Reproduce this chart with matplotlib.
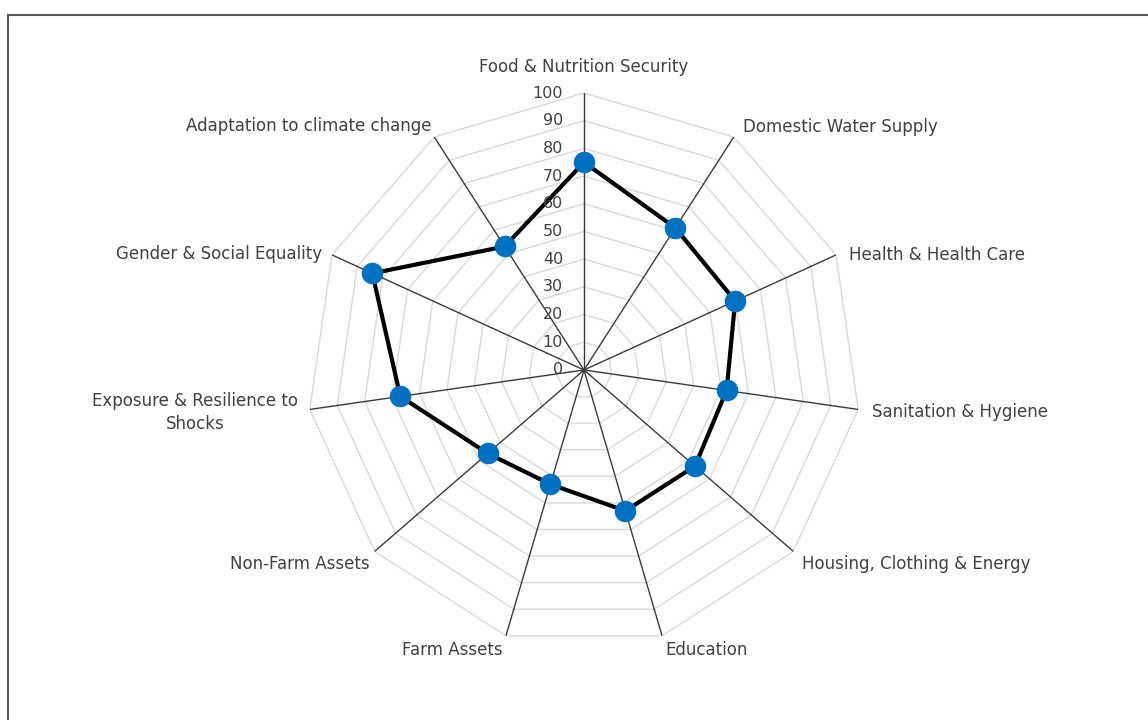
import numpy as np
import matplotlib
matplotlib.use("Agg")
import matplotlib.pyplot as plt
from matplotlib.patches import Rectangle

categories = [
    "Food & Nutrition Security",
    "Domestic Water Supply",
    "Health & Health Care",
    "Sanitation & Hygiene",
    "Housing, Clothing & Energy",
    "Education",
    "Farm Assets",
    "Non-Farm Assets",
    "Exposure & Resilience to\nShocks",
    "Gender & Social Equality",
    "Adaptation to climate change",
]
values = [75, 61, 60, 52, 53, 53, 43, 46, 67, 84, 53]
r_ticks = [0, 10, 20, 30, 40, 50, 60, 70, 80, 90, 100]

# label placement (ha, offset in pixels)
label_style = [
    ("center", (0, 26)),
    ("left", (9, 10)),
    ("left", (13, 0)),
    ("left", (14, -3)),
    ("left", (9, -13)),
    ("left", (3, -14)),
    ("right", (-3, -14)),
    ("right", (-5, -13)),
    ("right", (-12, -3)),
    ("right", (-10, 1)),
    ("right", (-3, 11)),
]

plt.rcParams['font.family'] = ['DejaVu Sans']
W, H = 1148, 720
fig = plt.figure(figsize=(W / 100, H / 100), dpi=100)

# outer chart border
fig.add_artist(Rectangle((8 / W, -0.2), 1.5, 1.2 - 15 / H, transform=fig.transFigure,
                         fill=False, edgecolor="#595959", linewidth=1.5))

cx, cy, R = 584, 370, 277
ax = fig.add_axes([(cx - R) / W, (H - cy - R) / H, 2 * R / W, 2 * R / H], projection="polar")
ax.set_theta_zero_location("N")
ax.set_theta_direction(-1)
ax.set_ylim(0, 100)
ax.axis("off")

n = len(categories)
theta = np.arange(n) * 2 * np.pi / n
theta_c = np.append(theta, theta[0])

# polygon gridlines
for r in r_ticks[1:]:
    ax.plot(theta_c, [r] * (n + 1), color="#d9d9d9", lw=1.0, zorder=1)

# spokes
for t in theta:
    ax.plot([t, t], [0, 100], color="#3a3a3a", lw=1.0, zorder=2)

# series
vals_c = values + values[:1]
ax.plot(theta_c, vals_c, color="black", lw=3, zorder=3, solid_joinstyle="round")
ax.plot(theta, values, linestyle="none", marker="o", markersize=14.5,
        markerfacecolor="#0070C0", markeredgecolor="#0070C0", zorder=4)

# radial tick labels
for r in r_ticks:
    ax.annotate(str(r), xy=(0, r), xytext=(-21, 0), textcoords="offset pixels",
                ha="right", va="center", fontsize=11.5, color="#404040", zorder=5)

# category labels
for t, lab, (ha, off) in zip(theta, categories, label_style):
    ax.annotate(lab, xy=(t, 100), xytext=off, textcoords="offset pixels",
                ha=ha, va="center", multialignment="center",
                fontsize=12, color="#404040", annotation_clip=False, linespacing=1.35)

fig.savefig("out.png", dpi=100)
